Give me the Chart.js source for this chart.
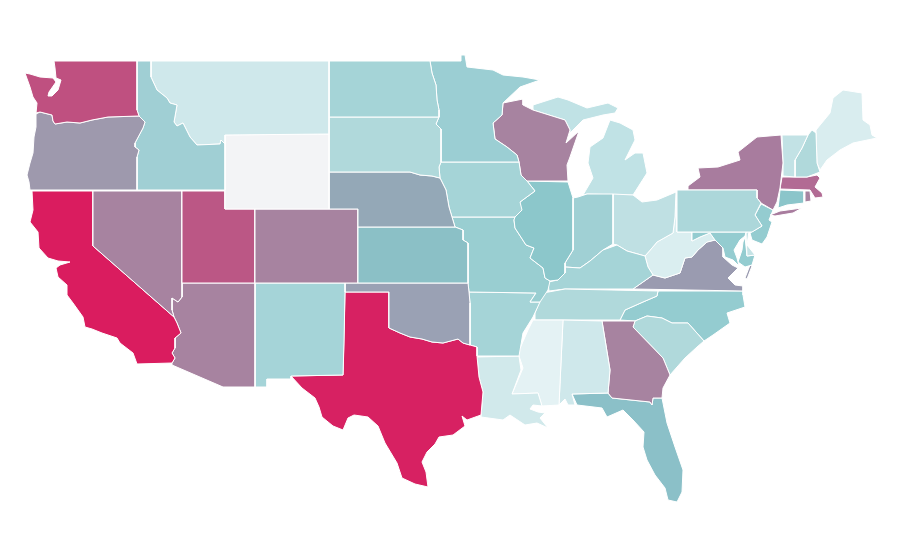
<!DOCTYPE html>
<html lang="en">
<head>
<meta charset="UTF-8">
<title>US states</title>
<script src="https://cdn.jsdelivr.net/npm/chart.js"></script>
<style>
  body { margin: 0; background: #fff; }
  canvas { display: block; }
</style>
</head>
<body>
<canvas id="map" width="900" height="560"></canvas>
<script>
// outlines, as flat x,y lists in map units
const washington = [54,61, 137,61, 137,110, 139,116, 108,117, 92,120, 80,123, 67,122, 55,124, 53,121, 52,115, 40,112, 36,113, 37,103, 33,97, 30,87, 25,73, 30,74, 40,77, 53,78, 56,82, 49,92, 48,96, 52,96, 58,90, 61,80, 56,78, 55,68];
const oregon = [36,114, 40,112, 52,115, 53,121, 55,124, 67,122, 80,123, 92,120, 108,117, 139,116, 145,122, 143,128, 135,143, 135,147, 139,150, 137,157, 137,190, 30,190, 29,182, 27,175, 30,163, 33,153, 34,137, 36,127];
const idaho = [137,61, 151,61, 151,77, 157,90, 167,98, 170,103, 177,105, 174,122, 177,126, 183,123, 190,137, 197,145, 220,144, 221,140, 225,144, 225,190, 137,190, 137,157, 139,150, 135,147, 135,143, 143,128, 145,122, 139,116, 137,110];
const montana = [151,61, 329,61, 329,134, 225,135, 225,144, 221,140, 220,144, 197,145, 190,137, 183,123, 177,126, 174,122, 177,105, 170,103, 167,98, 157,90, 151,77];
const wyoming = [225,135, 329,134, 329,209, 225,209];
const northDakota = [329,61, 430,61, 432,73, 436,85, 437,100, 439,110, 439,117, 329,117];
const southDakota = [329,117, 439,117, 436,124, 441,129, 441,162, 439,167, 440,178, 432,176, 420,175, 410,172, 329,172];
const nebraska = [329,172, 410,172, 420,175, 432,176, 440,178, 446,190, 449,207, 452,217, 455,227, 358,227, 358,209, 329,209];
const kansas = [358,227, 455,227, 463,230, 463,240, 468,243, 468,283, 358,283];
const colorado = [255,209, 358,209, 358,283, 255,283];
const utah = [182,191, 225,191, 225,209, 255,209, 255,283, 182,283];
const nevada = [93,191, 182,191, 182,297, 178,302, 172,298, 172,310, 174,317, 93,246];
const california = [32,191, 93,191, 93,246, 174,317, 177,323, 181,333, 175,338, 175,348, 172,353, 175,358, 172,363, 137,364, 133,353, 120,343, 117,338, 102,333, 92,329, 85,327, 83,317, 73,303, 67,295, 67,285, 58,277, 56,268, 60,265, 70,262, 58,261, 48,258, 39,248, 38,232, 30,222, 33,210];
const arizona = [182,283, 255,283, 255,387, 223,387, 172,365, 172,363, 175,358, 172,353, 175,348, 175,338, 181,333, 177,323, 174,317, 172,310, 172,298, 178,302, 182,297];
const newMexico = [255,283, 345,283, 345,292, 344,343, 343,375, 291,376, 291,379, 267,379, 267,387, 255,387];
const oklahoma = [345,283, 468,283, 469,292, 470,303, 470,345, 463,343, 458,339, 443,343, 432,342, 422,339, 410,337, 400,333, 389,328, 389,292, 345,292];
const texas = [345,292, 389,292, 389,328, 400,333, 410,337, 422,339, 432,342, 443,343, 458,339, 463,343, 470,345, 477,347, 477,356, 479,377, 483,392, 481,415, 467,420, 462,416, 465,426, 453,435, 439,437, 435,444, 427,452, 422,462, 426,472, 428,487, 415,484, 402,478, 397,463, 385,443, 378,426, 368,417, 354,415, 348,418, 343,430, 333,426, 322,417, 319,407, 315,398, 302,388, 291,376, 343,375];
const minnesota = [430,61, 461,61, 461,55, 465,55, 467,67, 493,70, 503,75, 523,77, 540,80, 520,87, 503,103, 502,115, 493,123, 495,139, 507,147, 517,155, 519,162, 441,162, 441,129, 436,124, 439,117, 439,110, 437,100, 436,85, 432,73];
const iowa = [441,162, 519,162, 521,175, 527,181, 535,191, 520,202, 522,210, 515,217, 452,217, 449,207, 446,190, 440,178, 439,167];
const wisconsin = [519,162, 517,155, 507,147, 495,139, 493,123, 502,115, 503,103, 523,99, 523,105, 533,110, 565,120, 570,130, 566,143, 579,131, 570,157, 567,165, 568,181, 527,181, 521,175];
const illinois = [527,181, 568,182, 573,198, 573,250, 565,263, 565,273, 558,280, 550,281, 545,278, 543,268, 530,258, 534,248, 526,245, 515,228, 514,220, 520,202, 535,191];
const missouri = [452,217, 515,217, 514,220, 515,228, 526,245, 534,248, 530,258, 543,268, 545,278, 550,281, 548,290, 540,302, 530,302, 536,293, 469,292, 468,283, 468,243, 463,240, 463,230, 455,227];
const arkansas = [469,292, 536,293, 530,302, 540,302, 533,317, 523,333, 519,356, 477,356, 477,347, 470,345, 470,303];
const louisiana = [477,357, 519,356, 521,370, 512,394, 538,393, 542,406, 533,405, 530,409, 538,412, 545,413, 540,418, 548,428, 537,423, 525,425, 510,415, 503,420, 481,417, 483,392, 479,377];
const mississippi = [533,320, 563,320, 559,405, 542,406, 538,393, 512,394, 523,368, 518,353, 528,330];
const alabama = [563,320, 602,321, 610,370, 608,393, 572,394, 575,405, 568,405, 565,399, 559,405];
const georgia = [602,321, 635,321, 633,327, 663,358, 670,375, 663,388, 662,398, 653,398, 652,405, 650,402, 612,398, 608,393, 610,370];
const southCarolina = [635,321, 647,316, 662,318, 672,323, 688,323, 704,341, 697,347, 685,358, 670,375, 663,358, 633,327];
const florida = [572,394, 608,393, 612,398, 650,402, 652,405, 653,398, 662,398, 667,423, 675,447, 683,470, 682,492, 677,502, 668,500, 665,488, 655,475, 647,460, 643,447, 644,432, 633,420, 623,410, 607,417, 602,408, 577,405];
const tennessee = [543,293, 565,289, 658,291, 657,296, 643,302, 625,310, 620,320, 535,320, 535,313];
const kentucky = [549,291, 548,282, 558,280, 565,273, 565,267, 580,268, 590,261, 603,250, 617,245, 627,251, 645,256, 648,267, 653,275, 633,289, 565,289];
const indiana = [573,198, 578,197, 587,194, 613,194, 613,244, 603,250, 590,261, 580,268, 565,267, 565,263, 573,250];
const ohio = [613,194, 633,195, 642,202, 657,200, 676,192, 675,217, 673,233, 657,242, 652,248, 645,256, 627,251, 617,245, 613,244];
const lowerMichigan = [587,194, 620,195, 633,195, 647,173, 643,153, 635,153, 625,160, 635,140, 633,130, 620,123, 610,120, 603,138, 590,147, 588,163, 593,178, 583,195];
const upperMichigan = [533,105, 558,97, 568,100, 587,108, 608,103, 618,108, 615,113, 603,115, 583,120, 570,133, 570,130, 565,120, 533,110];
const pennsylvania = [677,190, 757,190, 757,198, 761,203, 755,215, 762,226, 752,232, 677,232];
const newYork = [688,186, 700,177, 698,168, 718,167, 740,160, 738,152, 757,137, 781,135, 783,163, 780,188, 777,202, 773,210, 761,203, 757,198, 757,190, 688,190];
const longIsland = [770,215, 780,211, 802,208, 793,213, 775,216];
const vermont = [782,135, 808,135, 802,148, 795,160, 795,177, 783,176, 783,163];
const newHampshire = [812,130, 816,133, 817,163, 820,172, 807,177, 795,177, 795,160, 802,148, 808,135];
const maine = [816,130, 830,113, 833,98, 843,90, 862,93, 863,120, 870,125, 872,135, 877,138, 853,143, 840,150, 827,160, 820,170, 817,163];
const massachusetts = [782,177, 807,177, 817,175, 820,178, 815,187, 822,193, 823,197, 815,198, 810,190, 780,189];
const rhodeIsland = [805,191, 810,191, 811,201, 805,202];
const connecticut = [780,190, 804,191, 804,203, 787,205, 778,208, 779,200];
const newJersey = [761,204, 773,210, 769,220, 772,222, 767,237, 762,244, 752,240, 750,233, 762,226, 755,215];
const delaware = [746,233, 749,231, 747,245, 755,255, 747,256];
const maryland = [692,232, 746,232, 745,236, 740,240, 734,250, 737,258, 739,266, 733,260, 725,257, 723,248, 715,240, 710,233, 700,237, 692,241];
const easternShore = [745,237, 747,256, 755,255, 752,265, 745,267, 738,262, 742,250, 743,242];
const westVirginia = [677,192, 677,232, 692,232, 692,241, 700,237, 710,233, 715,240, 707,242, 698,250, 692,257, 685,258, 680,273, 665,278, 653,275, 648,267, 645,256, 652,248, 657,242, 673,233, 675,217];
const virginia = [653,275, 665,278, 680,273, 685,258, 692,257, 698,250, 707,242, 715,240, 723,248, 723,257, 732,265, 738,268, 728,278, 735,285, 743,286, 743,291, 633,289];
const virginiaShore = [750,265, 752,266, 747,279, 745,278];
const northCarolina = [658,291, 743,291, 743,295, 745,307, 727,313, 730,323, 713,335, 704,341, 688,323, 672,323, 662,318, 647,316, 635,321, 620,320, 625,310, 643,302, 657,296];

const stateNames = ["Washington","Oregon","Idaho","Montana","Wyoming","North Dakota","South Dakota","Nebraska","Kansas","Colorado","Utah","Nevada","California","Arizona","New Mexico","Oklahoma","Texas","Minnesota","Iowa","Wisconsin","Illinois","Missouri","Arkansas","Louisiana","Mississippi","Alabama","Georgia","South Carolina","Florida","Tennessee","Kentucky","Indiana","Ohio","Michigan","Michigan","Pennsylvania","New York","New York","Vermont","New Hampshire","Maine","Massachusetts","Rhode Island","Connecticut","New Jersey","Delaware","Maryland","Maryland","West Virginia","Virginia","Virginia","North Carolina"];
const stateOutlines = [washington,oregon,idaho,montana,wyoming,northDakota,southDakota,nebraska,kansas,colorado,utah,nevada,california,arizona,newMexico,oklahoma,texas,minnesota,iowa,wisconsin,illinois,missouri,arkansas,louisiana,mississippi,alabama,georgia,southCarolina,florida,tennessee,kentucky,indiana,ohio,lowerMichigan,upperMichigan,pennsylvania,newYork,longIsland,vermont,newHampshire,maine,massachusetts,rhodeIsland,connecticut,newJersey,delaware,maryland,easternShore,westVirginia,virginia,virginiaShore,northCarolina];
const stateColors = ["#bf5080","#9e99ad","#a0cfd4","#cfe8eb","#f3f4f6","#a5d4d7","#b0d9db","#94a8b7","#8bc0c6","#a783a0","#bb5785","#a783a0","#da1c5f","#a783a0","#a5d4d8","#9aa1b4","#d72162","#9bced3","#a5d4d7","#a783a0","#8cc7cb","#99ced1","#a5d4d7","#d1e9eb","#e4f2f4","#cfe8eb","#a783a0","#b0d9db","#8bc0c8","#b0d9db","#a5d4d7","#a0d0d4","#bfe0e3","#c0e2e5","#c0e2e5","#acd7da","#a87c9e","#a87c9e","#c2e2e5","#b0d9db","#d9edef","#b26b94","#a783a0","#8bc5ca","#94ccd0","#c5e3e6","#94ccd0","#94ccd0","#daeef0","#9a9bb0","#9a9bb0","#94ccd0"];

function toPoints(list) {
  const pts = [];
  for (let i = 0; i < list.length; i += 2) pts.push({ x: list[i], y: list[i + 1] });
  pts.push({ x: list[0], y: list[1] }); // close the ring
  return pts;
}

new Chart(document.getElementById("map"), {
  type: "scatter",
  data: {
    datasets: stateOutlines.map((o, i) => ({
      label: stateNames[i],
      data: toPoints(o),
      showLine: true,
      fill: "shape",
      backgroundColor: stateColors[i],
      borderColor: "#fff",
      borderWidth: 1,
      pointRadius: 0,
      tension: 0
    }))
  },
  options: {
    responsive: false,
    animation: false,
    layout: { padding: 0 },
    plugins: { legend: { display: false } },
    scales: {
      x: { type: "linear", display: false, min: 0, max: 900 },
      y: { type: "linear", display: false, min: 0, max: 560, reverse: true }
    }
  }
});
</script>
</body>
</html>
